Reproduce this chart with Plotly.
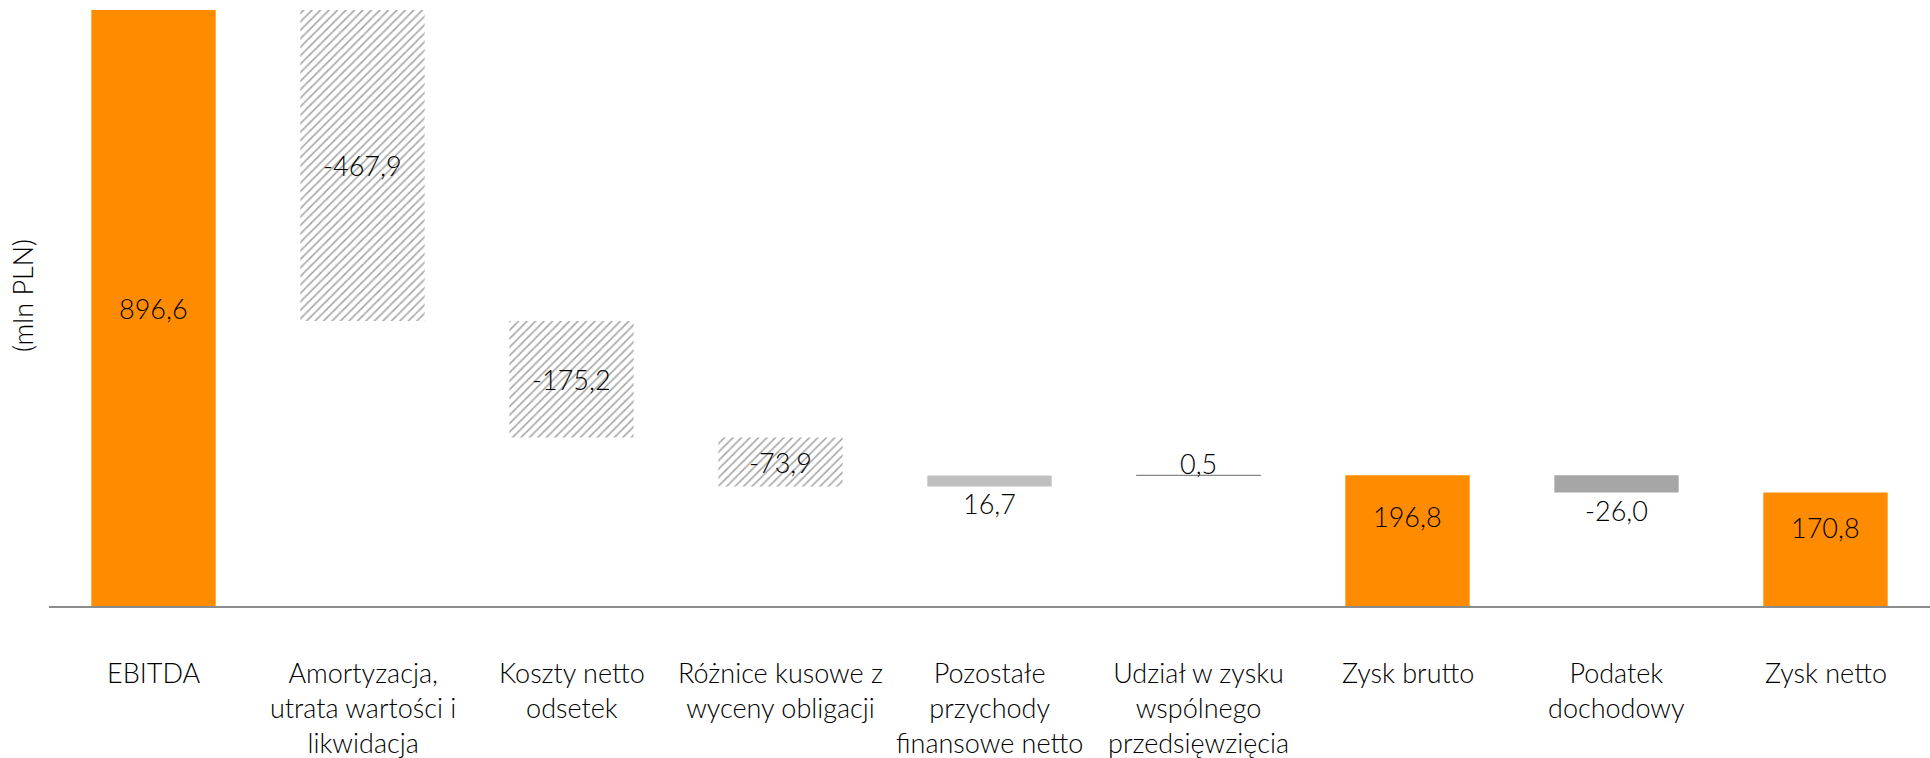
import plotly.graph_objects as go

categories = ["EBITDA", "Amortyzacja,<br>utrata wartości i<br>likwidacja", "Koszty netto<br>odsetek",
              "Różnice kusowe z<br>wyceny obligacji", "Pozostałe<br>przychody<br>finansowe netto",
              "Udział w zysku<br>wspólnego<br>przedsięwzięcia", "Zysk brutto", "Podatek<br>dochodowy", "Zysk netto"]
values = [896.6, -467.9, -175.2, -73.9, 16.7, 0.5, 196.8, -26.0, 170.8]
measures = ["absolute", "relative", "relative", "relative", "relative", "relative", "total", "relative", "total"]
value_labels = ["896,6", "-467,9", "-175,2", "-73,9", "16,7", "0,5", "196,8", "-26,0", "170,8"]

ORANGE = "#FF8B00"
HATCH = "hatch"
styles = [ORANGE, HATCH, HATCH, HATCH, "#BFBFBF", "#7F7F7F", ORANGE, "#A6A6A6", ORANGE]
# label placement: (anchor, pixel shift; positive = up)
label_pos = [("mid", 0), ("mid", 0), ("mid", 0), ("mid", 0), ("mid", -22), ("top", 12),
             ("mid", 24), ("bottom", -18), ("mid", 22)]

# compute bases / heights
bases, heights = [], []
running = 0.0
for v, m in zip(values, measures):
    if m == "absolute" or m == "total":
        bases.append(0.0)
        heights.append(v)
        running = v
    else:
        if v >= 0:
            bases.append(running)
            heights.append(v)
        else:
            bases.append(running + v)
            heights.append(-v)
        running += v

xs = list(range(len(categories)))
colors, shapes, fg, lines_c, lines_w = [], [], [], [], []
for s in styles:
    if s == HATCH:
        colors.append("white")
        shapes.append("/")
        fg.append("#C6C6C6")
        lines_c.append("rgba(0,0,0,0)")
        lines_w.append(0)
    else:
        colors.append(s)
        shapes.append("")
        fg.append(s)
        if s == "#7F7F7F":
            lines_c.append(s)
            lines_w.append(0.8)
        else:
            lines_c.append("rgba(0,0,0,0)")
            lines_w.append(0)

fig = go.Figure()
fig.add_trace(go.Bar(
    x=xs, y=heights, base=bases, width=0.595,
    marker=dict(color=colors, line=dict(color=lines_c, width=lines_w),
                pattern=dict(shape=shapes, fgcolor=fg, bgcolor="white", size=6, solidity=0.25)),
    hoverinfo="skip", showlegend=False,
))

FONT = dict(family="Lato, 'Open Sans', sans-serif", size=27, color="#000000", weight=300)

annotations = []
for i, (lab, (anc, sh)) in enumerate(zip(value_labels, label_pos)):
    b, h = bases[i], heights[i]
    if anc == "mid":
        y = b + h / 2
    elif anc == "top":
        y = b + h
    else:
        y = b
    annotations.append(dict(x=xs[i], y=y, xref="x", yref="y", text=lab, showarrow=False,
                            yshift=sh, font=FONT, xanchor="center", yanchor="middle"))

for i, c in enumerate(categories):
    annotations.append(dict(x=xs[i], y=0, xref="x", yref="paper", text=c, showarrow=False,
                            yshift=-48, yanchor="top", xanchor="center", font=FONT))

annotations.append(dict(x=0, y=0.52, xref="paper", yref="paper", text="(mln PLN)", showarrow=False,
                        xshift=-27, textangle=-90, font=FONT, xanchor="center", yanchor="middle"))

fig.update_layout(
    width=1930, height=758,
    margin=dict(l=49, r=0, t=10, b=152),
    plot_bgcolor="white", paper_bgcolor="white",
    annotations=annotations,
)
fig.update_xaxes(range=[-0.5, len(categories) - 0.5], showticklabels=False, showgrid=False,
                 zeroline=False, showline=True, linecolor="#8C8C8C", linewidth=1.5, ticks="")
fig.update_yaxes(range=[0, 896.6], showticklabels=False, showgrid=False, zeroline=False,
                 showline=False, ticks="")

fig.write_html("out.html", config={"displayModeBar": False})

# remove default body margin so the figure sits at the window's top-left corner
with open("out.html", "r", encoding="utf-8") as f:
    html = f.read()
html = html.replace("<body>", '<body style="margin:0;padding:0;overflow:hidden">', 1)
with open("out.html", "w", encoding="utf-8") as f:
    f.write(html)
